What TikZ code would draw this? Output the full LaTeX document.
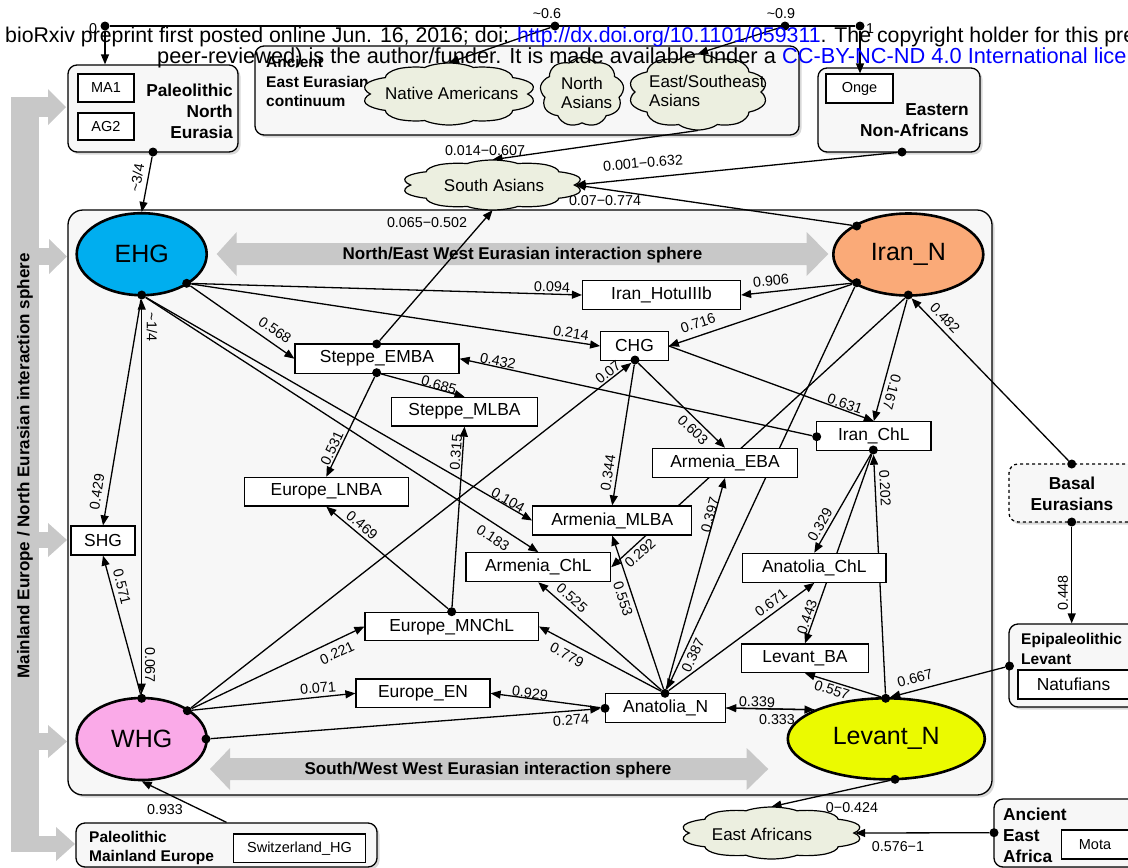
\documentclass[tikz,border=0pt]{standalone}
\usepackage{fontspec}
\setmainfont{Liberation Sans}
\usetikzlibrary{shapes.geometric,shapes.symbols,arrows.meta,shadows}
\definecolor{ehgc}{RGB}{0,174,239}
\definecolor{iranc}{RGB}{250,170,120}
\definecolor{whgc}{RGB}{250,170,232}
\definecolor{levc}{RGB}{235,250,0}
\definecolor{cloudc}{RGB}{236,239,224}
\definecolor{grpc}{RGB}{247,247,247}
\definecolor{grayarr}{RGB}{200,200,200}
\definecolor{linkc}{RGB}{0,0,255}
\pgfdeclarelayer{back}\pgfdeclarelayer{edges}\pgfsetlayers{back,edges,main}
\tikzset{
 fbox/.style={draw, fill=white, line width=1.2pt, inner sep=0pt, font=\fontsize{17.4}{20}\selectfont},
 sbox/.style={fbox, font=\fontsize{14.5}{17}\selectfont},
 ell/.style={ellipse, draw, line width=2.6pt, inner sep=0pt, font=\fontsize{25}{28}\selectfont},
 grp/.style={draw, fill=grpc, line width=1.3pt, rounded corners=9pt, inner sep=0pt, drop shadow={shadow xshift=2.5pt, shadow yshift=-2.5pt, opacity=0.3}},
 conn/.style={line width=1.3pt, -{Triangle[length=10pt,width=8pt]}},
 plain/.style={line width=1.3pt},
 dotn/.style={circle, fill=black, inner sep=0pt, minimum size=9pt},
 lab/.style={inner sep=0pt, font=\fontsize{14.3}{16}\selectfont},
 cl/.style={cloud, cloud puffs=10, cloud puff arc=110, cloud ignores aspect, draw, fill=cloudc, line width=1.2pt, inner sep=0pt, minimum width=100pt, minimum height=100pt, transform shape},
 cltext/.style={inner sep=0pt, font=\fontsize{17}{19.5}\selectfont},
 grptext/.style={inner sep=0pt, font=\bfseries\fontsize{17.3}{21}\selectfont},
 grptexts/.style={inner sep=0pt, font=\bfseries\fontsize{15.5}{19.5}\selectfont},
 spheretext/.style={inner sep=0pt, font=\bfseries\fontsize{17}{20}\selectfont},
}
\begin{document}
\begin{tikzpicture}[x=1pt,y=-1pt]
\useasboundingbox (0,0) rectangle (1128,868);
% ---------------- background layer
\begin{pgfonlayer}{back}
\begin{scope}
\clip (0,0) rectangle (1128,868);
\fill[white] (0,0) rectangle (1128,868);
\node[grp, minimum width=170pt, minimum height=87pt] (pne) at (153,108.5) {};
\node[grp, minimum width=544pt, minimum height=89pt] (aee) at (527,90.5) {};
\node[grp, minimum width=162pt, minimum height=84pt] (ena) at (899,110) {};
\node[grp, minimum width=924pt, minimum height=585pt, rounded corners=15pt] (mainbox) at (530,502.5) {};
\node[grp, dashed, minimum width=131pt, minimum height=58pt] (basal) at (1074.5,493) {};
\node[grp, minimum width=131pt, minimum height=83pt] (epi) at (1074.5,665.5) {};
\node[grp, minimum width=301pt, minimum height=44pt] (pme) at (226.5,845) {};
\node[grp, minimum width=146pt, minimum height=68pt] (aea) at (1067,833) {};
% grey block arrows
\fill[grayarr] (216.7,254) -- (236.7,232) -- (236.7,243) -- (806.7,243) -- (806.7,232) -- (828.3,254)
  -- (806.7,276) -- (806.7,265) -- (236.7,265) -- (236.7,276) -- cycle;
\fill[grayarr] (210,769) -- (230,748) -- (230,758) -- (746.7,758) -- (746.7,748) -- (768.3,769)
  -- (746.7,790) -- (746.7,780) -- (230,780) -- (230,790) -- cycle;
\fill[grayarr] (11,97) rectangle (39,852);
\fill[grayarr] (38,97) rectangle (49,117);
\fill[grayarr] (48,89) -- (66,107) -- (48,125) -- cycle;
\fill[grayarr] (38,248) rectangle (50,265);
\fill[grayarr] (49,239) -- (67,256.5) -- (49,274) -- cycle;
\fill[grayarr] (38,532) rectangle (50,548);
\fill[grayarr] (48,523) -- (67,540) -- (48,557) -- cycle;
\fill[grayarr] (38,733) rectangle (50,750);
\fill[grayarr] (48,725) -- (67,741.5) -- (48,758) -- cycle;
\fill[grayarr] (38,836) rectangle (57,852);
\fill[grayarr] (56,827) -- (75,844) -- (56,861) -- cycle;
\end{scope}
\end{pgfonlayer}
% sphere texts
\node[spheretext] (sph1) at (522.5,255) {North/East West Eurasian interaction sphere};
\node[spheretext] (sph2) at (488,770) {South/West West Eurasian interaction sphere};
\node[spheretext, rotate=90] (sph3) at (25,466) {Mainland Europe / North Eurasian interaction sphere};
% group texts
\node[grptext, align=right, anchor=east] (pnet) at (233,111) {Paleolithic\\North\\Eurasia};
\node[grptexts, align=left, anchor=west] (aeet) at (266,81.5) {Ancient\\East Eurasian\\continuum};
\node[grptext, align=right, anchor=east] (enat) at (969,120.5) {Eastern\\Non-Africans};
\node[grptext, align=center] (bast) at (1072,494) {Basal\\Eurasians};
\node[grptexts, align=left, anchor=west] (epit) at (1021,649) {Epipaleolithic\\Levant};
\node[grptexts, align=left, anchor=west] (pmet) at (89,848) {Paleolithic\\Mainland Europe};
\node[grptext, align=left, anchor=west] (aeat) at (1003,835.5) {Ancient\\East\\Africa};
% small boxes inside groups
\node[sbox, minimum width=56pt, minimum height=28pt] (ma1) at (106,88) {MA1};
\node[sbox, minimum width=56pt, minimum height=27pt] (ag2) at (106,126.5) {AG2};
\node[sbox, minimum width=67pt, minimum height=29pt] (onge) at (859.5,88.5) {Onge};
\node[sbox, minimum width=132.4pt, minimum height=28.7pt] (swz) at (299.5,848.3) {Switzerland\_HG};
\node[fbox, minimum width=111pt, minimum height=29pt] (natu) at (1073.5,684.5) {Natufians};
\node[sbox, minimum width=66.6pt, minimum height=29pt] (mota) at (1095,844.5) {Mota};
% clouds (a round cloud stretched to size)
\node[cl, xscale=1.75, yscale=0.62] (natam) at (449,94) {};
\node[cltext] (natamt) at (451.7,93.3) {Native Americans};
\node[cl, cloud puffs=9, xscale=0.84, yscale=0.69] (nas) at (582,92) {};
\node[cltext, align=left, anchor=west] (nast) at (561,93) {North\\Asians};
\node[cl, xscale=1.40, yscale=0.76] (esa) at (698,92) {};
\node[cltext, align=left, anchor=west] (esat) at (649,91) {East/Southeast\\Asians};
\node[cl, xscale=1.82, yscale=0.50] (sas) at (492.5,185) {};
\node[cltext] (sast) at (494,185) {South Asians};
\node[cl, xscale=1.83, yscale=0.52] (eaf) at (771.5,833) {};
\node[cltext] (eaft) at (762,834) {East Africans};
% ellipses
\node[ell, fill=ehgc, minimum width=130pt, minimum height=82pt] (ehg) at (141.7,254.2) {EHG};
\node[ell, fill=iranc, minimum width=150pt, minimum height=82pt] (iran) at (908.3,254.5) {Iran\_N};
\node[ell, fill=whgc, minimum width=130pt, minimum height=82pt] (whg) at (141.7,739) {WHG};
\node[ell, fill=levc, minimum width=197pt, minimum height=81pt] (levn) at (886.3,738.8) {Levant\_N};
% population boxes
\node[fbox, minimum width=158pt, minimum height=28.6pt] (hotu) at (661.5,295) {Iran\_HotuIIIb};
\node[fbox, minimum width=67.6pt, minimum height=28.3pt] (chg) at (634.5,346) {CHG};
\node[fbox, minimum width=164pt, minimum height=29.3pt] (ste) at (377,358.7) {Steppe\_EMBA};
\node[fbox, minimum width=145.6pt, minimum height=28.7pt] (stm) at (464.5,411.7) {Steppe\_MLBA};
\node[fbox, minimum width=114.3pt, minimum height=29pt] (irc) at (873.8,436.2) {Iran\_ChL};
\node[fbox, minimum width=145.4pt, minimum height=29pt] (are) at (725,462.8) {Armenia\_EBA};
\node[fbox, minimum width=164pt, minimum height=28.7pt] (eul) at (326.3,491.7) {Europe\_LNBA};
\node[fbox, minimum width=159pt, minimum height=29pt] (arm) at (612.2,520.5) {Armenia\_MLBA};
\node[fbox, minimum width=64pt, minimum height=29pt] (shg) at (103,540.5) {SHG};
\node[fbox, minimum width=144.7pt, minimum height=29pt] (arc) at (538.3,567.2) {Armenia\_ChL};
\node[fbox, minimum width=143.3pt, minimum height=29pt] (anc) at (814.3,567.8) {Anatolia\_ChL};
\node[fbox, minimum width=173.3pt, minimum height=28.4pt] (eum) at (451.7,626.5) {Europe\_MNChL};
\node[fbox, minimum width=126.6pt, minimum height=28.7pt] (levb) at (805,658.3) {Levant\_BA};
\node[fbox, minimum width=134pt, minimum height=28.7pt] (euen) at (423,693.3) {Europe\_EN};
\node[fbox, minimum width=120pt, minimum height=29.4pt] (ann) at (665.7,708) {Anatolia\_N};
% dots
\node[dotn] (t0) at (105,26) {};
\node[dotn] (t1) at (555,26) {};
\node[dotn] (t2) at (785,26) {};
\node[dotn] (t3) at (860,26) {};
\node[dotn] (pneB) at (153,152) {};
\node[dotn] (enaB) at (902,152) {};
\node[dotn] (ehgR) at (186.7,283.3) {};
\node[dotn] (ehgB) at (141.7,295) {};
\node[dotn] (iranTL) at (856.7,226) {};
\node[dotn] (iranL) at (856.7,282.7) {};
\node[dotn] (iranB) at (908.3,295) {};
\node[dotn] (whgT) at (141.7,698.3) {};
\node[dotn] (whgUR) at (187.3,710.7) {};
\node[dotn] (whgR) at (206,739) {};
\node[dotn] (levT) at (885.7,698.3) {};
\node[dotn] (levB) at (895,779.3) {};
\node[dotn] (chgB) at (635,360) {};
\node[dotn] (steT) at (376.7,344) {};
\node[dotn] (steB) at (376.7,372.7) {};
\node[dotn] (eumT) at (451.7,611.7) {};
\node[dotn] (annT) at (665,693.3) {};
\node[dotn] (annL) at (605,708.3) {};
\node[dotn] (ircL) at (816.7,436.7) {};
\node[dotn] (ircB) at (873.3,450) {};
\node[dotn] (basT) at (1071.7,464) {};
\node[dotn] (basB) at (1071.7,522) {};
\node[dotn] (epiL) at (1009.5,666) {};
\node[dotn] (aeaL) at (994,832.7) {};
% ---------------- connectors
\begin{pgfonlayer}{edges}
\draw[plain] (t0) -- (t3);
\draw[conn] (t0) -- (t0.center |- pne.north);
\draw[conn] (t1) -- (natam.north);
\draw[conn] (t2) -- (esa.north);
\draw[conn] (t3) -- (t3.center |- onge.north);
\draw[conn] (pneB) -- (ehg.north);
\draw[conn] (esa.south) -- (sas.north);
\draw[conn] (enaB) -- (sas.east);
\draw[conn] (iranTL) -- (sas.east);
\draw[conn] (steT) -- (sas.south);
\draw[conn] (ehgR) -- (hotu.west);
\draw[conn] (ehgR) -- (chg.west);
\draw[conn] (ehgR) -- (ste.west);
\draw[conn] (iranL) -- (hotu.east);
\draw[conn] (iranL) -- (chg.east);
\draw[conn] (iranL) -- (annT);
\draw[conn] (iranB) -- (irc.north);
\draw[conn] (iranB) -- (arc.east);
\draw[conn] (basT) -- (iranB);
\draw[conn] (basB) -- (basB.center |- epi.north);
\draw[conn] (steB) -- (stm.north);
\draw[conn] (steB) -- (eul.north);
\draw[conn] (ircL) -- (ste.east);
\draw[conn] (eumT) -- (eul.south);
\draw[conn] (eumT) -- (stm.south);
\draw[conn] (ehgB) -- (arm.west);
\draw[conn] (ehgB) -- (arc.north);
\draw[conn] (ehgB) -- (shg.north);
\draw[conn] (whgT) -- (ehgB);
\draw[conn] (ehgB) -- (whgT);
\draw[conn] (whgT) -- (shg.south);
\draw[conn] (whgUR) -- (chgB);
\draw[conn] (whgUR) -- (eum.west);
\draw[conn] (whgUR) -- (euen.west);
\draw[conn] (whgR) -- (annL);
\draw[conn] (annL) -- (euen.east);
\draw[conn] (annT) -- (eum.east);
\draw[conn] (annT) -- (arc.south);
\draw[conn] (annT) -- (arm.south);
\draw[conn] (annT) -- (are.south);
\draw[conn] (annT) -- (anc.south);
\draw[conn] (chg.east) -- (irc.north);
\draw[conn] (chgB) -- (are.north);
\draw[conn] (chgB) -- (arm.north);
\draw[conn] (ircB) -- (anc.north);
\draw[conn] (ircB) -- (levb.north);
\draw[conn] (levT) -- (ircB);
\draw[conn] (levT) -- (levb.south);
\draw[conn] (ann.east) -- (levn.158);
\draw[conn] (levn.158) -- (ann.east);
\draw[conn] (epiL) -- (levT);
\draw[conn] (levB) -- (eaf.north);
\draw[conn] (aeaL) -- (eaf.east);
\draw[conn] (pme.north) -- (whg.south);
\end{pgfonlayer}
% ---------------- labels
\node[lab] (lt0) at (93,29) {0};
\node[lab] (lt1) at (547,14) {\textasciitilde 0.6};
\node[lab] (lt2) at (781,14) {\textasciitilde 0.9};
\node[lab] (lt3) at (870,29) {1};
\node[lab, rotate=80] (l34) at (137,178) {\textasciitilde 3/4};
\node[lab, rotate=-90] (l14) at (152,327) {\textasciitilde 1/4};
\node[lab, rotate=-90] (l067) at (150,665) {0.067};
\node[lab, rotate=81] (l429) at (97,492) {0.429};
\node[lab, rotate=-76] (l571) at (122,587) {0.571};
\node[lab, rotate=-34] (l568) at (275,330) {0.568};
\node[lab, rotate=-2] (l094) at (552,287) {0.094};
\node[lab, rotate=-9] (l214) at (571,333) {0.214};
\node[lab, rotate=6] (l906) at (771,281) {0.906};
\node[lab, rotate=18] (l716) at (698,323) {0.716};
\node[lab, rotate=-12] (l432) at (498,361) {0.432};
\node[lab, rotate=-16] (l685) at (439,385) {0.685};
\node[lab, rotate=65] (l531) at (332,448) {0.531};
\node[lab, rotate=-40] (l469) at (362,525) {0.469};
\node[lab, rotate=86] (l315) at (456,452) {0.315};
\node[lab, rotate=-30] (l104) at (508,500) {0.104};
\node[lab, rotate=-33] (l183) at (493,538) {0.183};
\node[lab, rotate=38] (l07) at (608,372) {0.07};
\node[lab, rotate=25] (l221) at (337,653) {0.221};
\node[lab, rotate=5] (l071) at (318,688) {0.071};
\node[lab, rotate=4] (l274) at (571,720) {0.274};
\node[lab, rotate=-7] (l929) at (530,693) {0.929};
\node[lab, rotate=-28] (l779) at (567,655) {0.779};
\node[lab, rotate=-42] (l525) at (572,598) {0.525};
\node[lab, rotate=-72] (l553) at (623,599) {0.553};
\node[lab, rotate=42] (l292) at (640,553) {0.292};
\node[lab, rotate=81] (l344) at (608,473) {0.344};
\node[lab, rotate=-44] (l603) at (693,430) {0.603};
\node[lab, rotate=75] (l397) at (710,515) {0.397};
\node[lab, rotate=65] (l387) at (693,655) {0.387};
\node[lab, rotate=37] (l671) at (771,603) {0.671};
\node[lab, rotate=-19] (l631) at (845,404) {0.631};
\node[lab, rotate=-105] (l167) at (892,392) {0.167};
\node[lab, rotate=-46] (l482) at (945,318) {0.482};
\node[lab, rotate=60] (l329) at (820,525) {0.329};
\node[lab, rotate=71] (l443) at (807,617) {0.443};
\node[lab, rotate=-87] (l202) at (885,488) {0.202};
\node[lab, rotate=-18] (l557) at (832,690) {0.557};
\node[lab, rotate=15] (l667) at (915,678) {0.667};
\node[lab, rotate=-2] (l339) at (757,702) {0.339};
\node[lab] (l333) at (777,720) {0.333};
\node[lab, rotate=90] (l448) at (1063,593) {0.448};
\node[lab] (l0424) at (852,808) {0−0.424};
\node[lab] (l5761) at (898,847) {0.576−1};
\node[lab] (l933) at (165,810) {0.933};
\node[lab] (l014) at (485,151) {0.014−0.607};
\node[lab, rotate=5] (l001) at (643,163) {0.001−0.632};
\node[lab] (l07774) at (605,201) {0.07−0.774};
\node[lab] (l065) at (427,223) {0.065−0.502};
% ---------------- page header
\begin{scope}
\clip (0,0) rectangle (1128,868);
\node[anchor=base west, inner sep=0pt, font=\fontsize{21.3}{24}\selectfont] (hdr1) at (5,42) {bioRxiv preprint first posted online Jun. 16, 2016; doi: \textcolor{linkc}{http://dx.doi.org/10.1101/059311}. The copyright holder for this preprint (which was not};
\node[anchor=base west, inner sep=0pt, font=\fontsize{21.8}{24}\selectfont] (hdr2) at (157,63) {peer-reviewed) is the author/funder. It is made available under a \textcolor{linkc}{CC-BY-NC-ND 4.0 International license}.};
\end{scope}
\end{tikzpicture}
\end{document}
